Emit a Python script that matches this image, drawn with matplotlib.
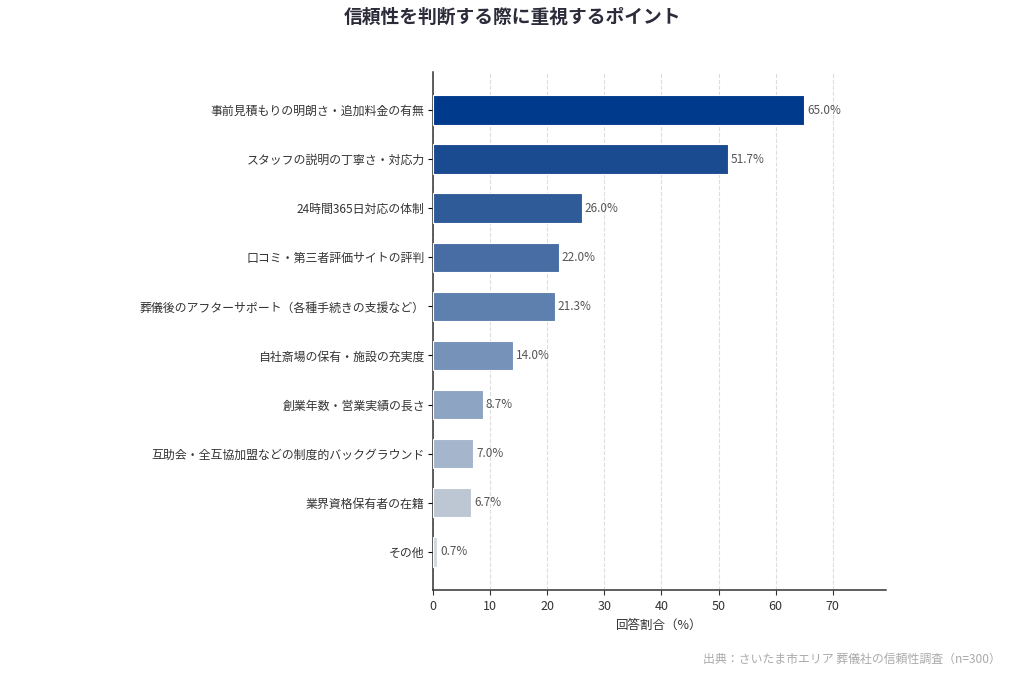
import numpy as np
import matplotlib
matplotlib.use('Agg')
import matplotlib.pyplot as plt

plt.rcParams['font.family'] = ['Noto Sans CJK JP', 'DejaVu Sans']

# データ
labels = [
    '事前見積もりの明朗さ・追加料金の有無',
    'スタッフの説明の丁寧さ・対応力',
    '24時間365日対応の体制',
    '口コミ・第三者評価サイトの評判',
    '葬儀後のアフターサポート（各種手続きの支援など）',
    '自社斎場の保有・施設の充実度',
    '創業年数・営業実績の長さ',
    '互助会・全互協加盟などの制度的バックグラウンド',
    '業界資格保有者の在籍',
    'その他',
]
values = [65.0, 51.7, 26.0, 22.0, 21.3, 14.0, 8.7, 7.0, 6.7, 0.7]
colors = ['#003a8c', '#1a4a8f', '#2f5c99', '#476da4', '#5e80ae', '#7692b9',
          '#8ea4c3', '#a5b5cb', '#bcc7d3', '#d2d8df']

fig = plt.figure(figsize=(10.24, 6.83), dpi=100)
ax = fig.add_axes([0.423, 0.136, 0.442, 0.759])

y = np.arange(len(labels))
ax.barh(y, values, height=0.6, color=colors, edgecolor='white', linewidth=0.8, zorder=3)
ax.invert_yaxis()
ax.set_yticks(y)
ax.set_yticklabels(labels, fontsize=8.6, color='#333333')
ax.tick_params(axis='y', pad=2.5)

for yi, v in zip(y, values):
    ax.text(v + 0.5, yi, f'{v:.1f}%', va='center', ha='left', fontsize=8.5, color='#555555')

ax.set_xlim(0, max(values) * 1.22)
ax.set_xticks(range(0, 80, 10))
ax.tick_params(axis='x', labelsize=9, colors='#333333')
ax.set_xlabel('回答割合（%）', fontsize=9, color='#333333')
ax.xaxis.grid(True, linestyle='--', color='#dddddd', linewidth=0.8, zorder=0)
ax.set_axisbelow(True)

for s in ['top', 'right']:
    ax.spines[s].set_visible(False)
for s in ['left', 'bottom']:
    ax.spines[s].set_color('#333333')
    ax.spines[s].set_linewidth(1.1)

fig.text(0.5, 0.988, '信頼性を判断する際に重視するポイント', ha='center', va='top',
         fontsize=13.5, fontweight='bold', color='#2b2b3a')
fig.text(0.977, 0.034, '出典：さいたま市エリア 葬儀社の信頼性調査（n=300）', ha='right', va='center',
         fontsize=8.6, color='#aaaaaa')

fig.savefig('out.png', dpi=100)
